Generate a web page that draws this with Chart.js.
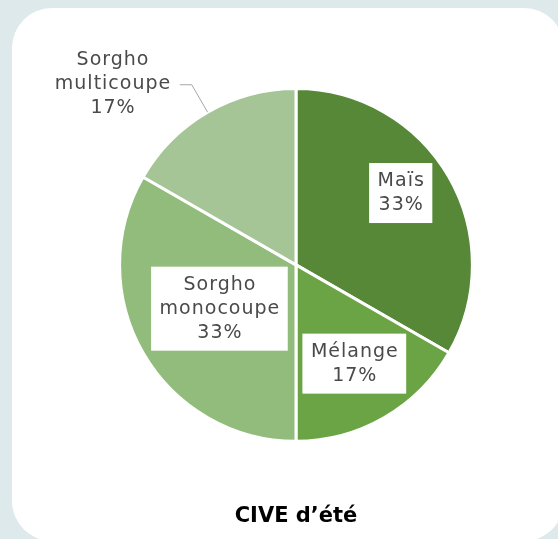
<!DOCTYPE html>
<html>
<head>
<meta charset="utf-8">
<script src="https://cdn.jsdelivr.net/npm/chart.js@4/dist/chart.umd.min.js"></script>
<style>
    html, body { margin: 0; padding: 0; background: #dee9eb; }
    body { width: 558px; height: 539px; position: relative; overflow: hidden; }
    #card {
        position: absolute; left: 12px; top: 8px; width: 552px; height: 533px;
        background: #ffffff; border-radius: 40px;
    }
    #chart { position: absolute; left: 0; top: 0; }
</style>
</head>
<body>
<div id="card"></div>
<canvas id="chart" width="558" height="539"></canvas>
<script>
// Chart data
const categories = ['Maïs', 'Mélange', 'Sorgho monocoupe', 'Sorgho multicoupe'];
const labelLines = [['Maïs'], ['Mélange'], ['Sorgho', 'monocoupe'], ['Sorgho', 'multicoupe']];
const shares = [33.3, 16.7, 33.3, 16.7]; // % of surface
const sliceColors = ['#568838', '#6aa444', '#92bc7b', '#a5c596'];
const chartTitle = 'CIVE d’été';

// where each label sits: fraction of radius, angle shift (deg), outside = leader line
const labelPlace = [
    { f: 0.72, da: -4.4 },
    { f: 0.65, da: -0.5 },
    { f: 0.50, da: 0.3 },
    { f: 1.18, da: 0, outside: true }
];

const labelFont = '19px "DejaVu Sans"';
const lineH = 24;

// draws the Excel-like data labels (white boxes + one callout)
const pieLabels = {
    id: 'pieLabels',
    afterDatasetsDraw(chart) {
        const ctx = chart.ctx;
        const meta = chart.getDatasetMeta(0);
        const data = chart.data.datasets[0].data;
        const total = data.reduce((a, b) => a + b, 0);
        ctx.save();
        ctx.font = labelFont;
        ctx.letterSpacing = '1px';
        ctx.textAlign = 'center';
        ctx.textBaseline = 'middle';
        meta.data.forEach((arc, i) => {
            const p = arc.getProps(['x', 'y', 'startAngle', 'endAngle', 'outerRadius'], true);
            const place = labelPlace[i];
            const mid = (p.startAngle + p.endAngle) / 2 + place.da * Math.PI / 180;
            const lines = labelLines[i].concat([Math.round(data[i] / total * 100) + '%']);
            const w = Math.max(...lines.map(t => ctx.measureText(t).width));
            const h = lines.length * lineH;
            let cx, cy;
            if (place.outside) {
                const ex = p.x + Math.cos(mid) * p.outerRadius;
                const ey = p.y + Math.sin(mid) * p.outerRadius;
                const kx = p.x + Math.cos(mid) * p.outerRadius * place.f;
                const ky = p.y + Math.sin(mid) * p.outerRadius * place.f;
                ctx.strokeStyle = '#a6a6a6';
                ctx.lineWidth = 1;
                ctx.beginPath();
                ctx.moveTo(ex, ey);
                ctx.lineTo(kx, ky);
                ctx.lineTo(kx - 12, ky);
                ctx.stroke();
                cx = kx - 12 - 9 - w / 2;
                cy = ky - 1;
            } else {
                cx = p.x + Math.cos(mid) * p.outerRadius * place.f;
                cy = p.y + Math.sin(mid) * p.outerRadius * place.f;
                ctx.fillStyle = '#ffffff';
                ctx.fillRect(cx - w / 2 - 8, cy - h / 2 - 6, w + 16, h + 12);
            }
            ctx.fillStyle = '#4a4a4a';
            lines.forEach((t, j) => {
                ctx.fillText(t, cx + 0.5, cy - h / 2 + lineH / 2 + j * lineH);
            });
        });
        ctx.restore();
    }
};

const ctx = document.getElementById('chart').getContext('2d');
const chart = new Chart(ctx, {
    type: 'pie',
    data: {
        labels: categories,
        datasets: [{
            data: shares,
            backgroundColor: sliceColors,
            borderColor: '#ffffff',
            borderWidth: 3
        }]
    },
    options: {
        responsive: false,
        animation: false,
        layout: { padding: { left: 118, right: 84, top: 87, bottom: 0 } },
        plugins: {
            legend: { display: false },
            tooltip: { enabled: false },
            title: {
                display: true,
                position: 'bottom',
                text: chartTitle,
                color: '#000000',
                font: { family: 'DejaVu Sans', size: 21, weight: 'bold' },
                padding: { top: 61, bottom: 10 }
            }
        }
    },
    plugins: [pieLabels]
});
</script>
</body>
</html>
